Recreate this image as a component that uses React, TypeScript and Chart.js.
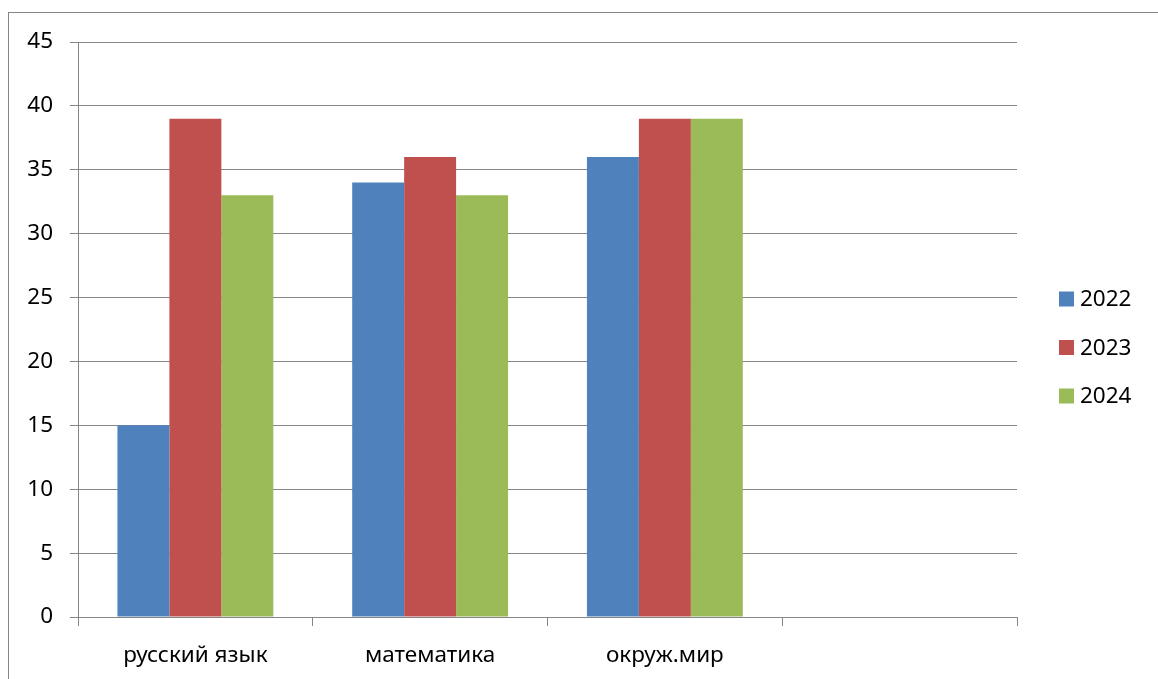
import React, { useEffect, useRef } from "react";
import { Chart, registerables } from "chart.js";

Chart.register(...registerables);

const categories = ["русский язык", "математика", "окруж.мир", ""];
const seriesLabels = ["2022", "2023", "2024"];
const values2022 = [15, 34, 36, null];
const values2023 = [39, 36, 39, null];
const values2024 = [33, 33, 39, null];
const seriesColors = ["#4F81BD", "#C0504D", "#9BBB59"];
const yTicks = { min: 0, max: 45, step: 5 };

const FONT = "'Noto Sans', sans-serif";
const GRID = "#868686";

const legendPlugin = {
  id: "customLegend",
  afterDraw(chart: any) {
    const ctx = chart.ctx;
    const ds = chart.data.datasets;
    const x0 = 1059;
    const yStart = 299;
    const gap = 48.5;
    ctx.save();
    ctx.font = `22.5px ${FONT}`;
    ctx.textBaseline = "middle";
    ctx.textAlign = "left";
    ds.forEach((d: any, i: number) => {
      const y = yStart + i * gap;
      ctx.fillStyle = d.backgroundColor;
      ctx.fillRect(x0, y - 7.5, 15, 15);
      ctx.fillStyle = "#000";
      ctx.fillText(d.label, x0 + 21, y + 1);
    });
    ctx.restore();
  },
};

export default function App() {
  const ref = useRef<HTMLCanvasElement>(null);
  useEffect(() => {
    document.documentElement.style.overflow = "hidden";
    const data = [values2022, values2023, values2024];
    const chart = new Chart(ref.current!, {
      type: "bar",
      data: {
        labels: categories,
        datasets: seriesLabels.map((l, i) => ({
          label: l,
          data: data[i] as any,
          backgroundColor: seriesColors[i],
          borderWidth: 0,
          categoryPercentage: 0.664,
          barPercentage: 1,
        })),
      },
      options: {
        animation: false,
        responsive: false,
        devicePixelRatio: 1,
        layout: { padding: { left: 8, right: 141, top: 42, bottom: 0 } },
        plugins: { legend: { display: false }, tooltip: { enabled: false } },
        scales: {
          x: {
            afterFit: (s: any) => {
              s.height = 62;
            },
            grid: {
              display: true,
              drawOnChartArea: false,
              drawTicks: true,
              tickLength: 9,
              color: GRID,
              offset: true,
            },
            border: { display: true, color: GRID, width: 1 },
            ticks: {
              color: "#000",
              font: { family: FONT, size: 22.5 },
              padding: 16,
              maxRotation: 0,
            },
          },
          y: {
            min: yTicks.min,
            max: yTicks.max,
            afterFit: (s: any) => {
              s.width = 70;
            },
            grid: {
              color: GRID,
              tickLength: 8,
              drawTicks: true,
            },
            border: { display: true, color: GRID, width: 1 },
            ticks: {
              stepSize: yTicks.step,
              color: "#000",
              font: { family: FONT, size: 22.5 },
              padding: 17,
            },
          },
        },
      },
      plugins: [legendPlugin],
    });
    return () => chart.destroy();
  }, []);
  return (
    <div>
      <canvas
        ref={ref}
        width={1158}
        height={679}
        style={{ position: "fixed", left: 0, top: 0, width: 1158, height: 679 }}
      />
      <div
        style={{
          position: "fixed",
          left: 8,
          top: 12,
          right: -20,
          bottom: -20,
          border: `1px solid ${GRID}`,
          pointerEvents: "none",
        }}
      />
    </div>
  );
}
